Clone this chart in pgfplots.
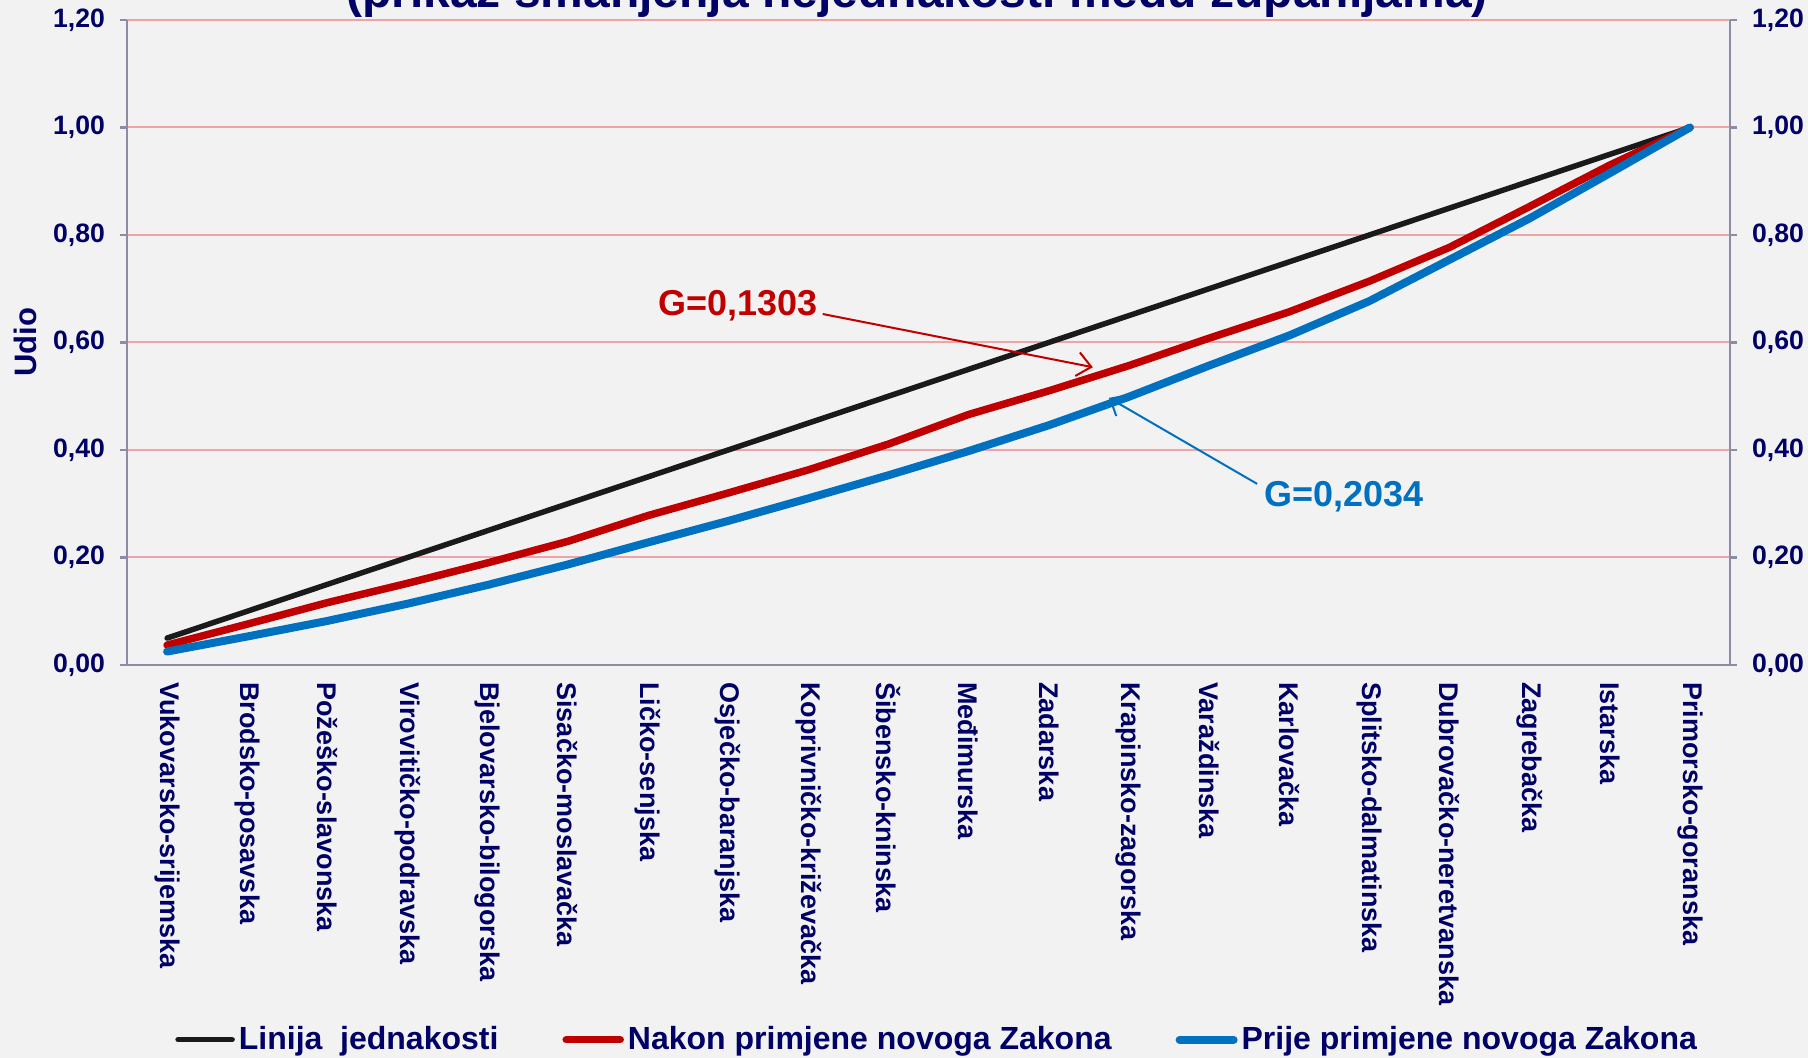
\documentclass[border=0pt]{standalone}
\usepackage{pgfplots}
\pgfplotsset{compat=1.18}
\usepackage{pgfplotstable}
\usetikzlibrary{arrows.meta}
\usepackage{fontspec}
\setmainfont{Liberation Sans}
\definecolor{navy}{HTML}{000066}
\definecolor{bg}{HTML}{F2F2F2}
\definecolor{gridc}{HTML}{EDA5A8}
\definecolor{axc}{HTML}{8C8CA6}
\definecolor{cred}{HTML}{C00000}
\definecolor{cblue}{HTML}{0070C0}
\definecolor{cblack}{HTML}{1A1A1A}

\pgfplotstableread{
x eq nakon prije
0 0.05 0.037 0.025
1 0.10 0.076 0.053
2 0.15 0.116 0.082
3 0.20 0.152 0.114
4 0.25 0.190 0.149
5 0.30 0.230 0.187
6 0.35 0.278 0.228
7 0.40 0.320 0.268
8 0.45 0.363 0.310
9 0.50 0.411 0.353
10 0.55 0.466 0.398
11 0.60 0.510 0.446
12 0.65 0.557 0.499
13 0.70 0.608 0.557
14 0.75 0.657 0.613
15 0.80 0.714 0.677
16 0.85 0.777 0.754
17 0.90 0.853 0.831
18 0.95 0.930 0.915
19 1.00 1.000 1.000
}\data

\pgfplotsset{
  commonax/.style={
    at={(0pt,0pt)}, anchor=south west,
    scale only axis, width=801.5pt, height=322.5pt,
    xmin=-0.5, xmax=19.5, ymin=0, ymax=1.2,
    ytick={0,0.2,0.4,0.6,0.8,1,1.2},
    yticklabels={{0,00},{0,20},{0,40},{0,60},{0,80},{1,00},{1,20}},
    yticklabel style={font=\bfseries\fontsize{13.3}{13.3}\selectfont, text=navy},
    tick align=outside, major tick length=3.5pt,
    ytick style={axc, line width=1.3pt},
    axis line style={axc, line width=1.3pt},
  }
}

\begin{document}
\begin{tikzpicture}
\fill[bg] (-63.5pt,-196.5pt) rectangle (840.5pt,332.5pt);
\path[use as bounding box] (-63.5pt,-196.5pt) rectangle (840.5pt,332.5pt);
\node[anchor=base, font=\bfseries\fontsize{24}{24}\selectfont, text=navy] at (395pt,328.5pt) {(prikaz smanjenja nejednakosti među županijama)};
\begin{axis}[commonax,
  axis x line*=bottom, axis y line*=left,
  ymajorgrids, grid style={gridc, line width=1pt},
  xtick={0,...,19},
  xticklabels={Vukovarsko-srijemska,Brodsko-posavska,Požeško-slavonska,Virovitičko-podravska,Bjelovarsko-bilogorska,Sisačko-moslavačka,Ličko-senjska,Osječko-baranjska,Koprivničko-križevačka,Šibensko-kninska,Međimurska,Zadarska,Krapinsko-zagorska,Varaždinska,Karlovačka,Splitsko-dalmatinska,Dubrovačko-neretvanska,Zagrebačka,Istarska,Primorsko-goranska},
  xticklabel style={rotate=-90, anchor=west, font=\bfseries\fontsize{13.5}{13.5}\selectfont, text=navy, xshift=1.7pt},
  xtick style={draw=none},
  ylabel={Udio},
  ylabel style={at={(-0.0636,0.5)}, anchor=center, font=\bfseries\fontsize{15.5}{15.5}\selectfont, text=navy},
  yticklabel style={xshift=-4pt},
  legend columns=3,
  legend style={at={(0.506,-0.581)}, anchor=center, draw=none, fill=none,
    font=\bfseries\fontsize{16}{16}\selectfont, text=navy,
    /tikz/every even column/.append style={column sep=30pt}},
  legend image code/.code={\draw[#1, line cap=round] (0pt,0pt) -- (27pt,0pt);},
]
\addplot[cblack, line width=2.75pt, line cap=round, line join=round] table[x=x, y=eq] {\data};
\addlegendentry{Linija\ \ jednakosti}
\addplot[cred, line width=3.75pt, line cap=round, line join=round] table[x=x, y=nakon] {\data};
\addlegendentry{Nakon primjene novoga Zakona}
\addplot[cblue, line width=4pt, line cap=round, line join=round] table[x=x, y=prije] {\data};
\addlegendentry{Prije primjene novoga Zakona}
\node[text=cred, font=\bfseries\fontsize{18}{18}\selectfont] at (axis cs:7.12,0.668) {G=0,1303};
\draw[cred, line width=1pt, -{Straight Barb[length=7pt,width=12pt]}] (axis cs:8.18,0.653) -- (axis cs:11.55,0.554);
\node[text=cblue, font=\bfseries\fontsize{18}{18}\selectfont] at (axis cs:14.68,0.314) {G=0,2034};
\draw[cblue, line width=1pt, -{Straight Barb[length=7pt,width=12pt]}] (axis cs:13.60,0.337) -- (axis cs:11.75,0.497);
\end{axis}
\begin{axis}[commonax,
  hide x axis, axis y line*=right,
  yticklabel style={xshift=4pt},
]
\end{axis}
\end{tikzpicture}
\end{document}
